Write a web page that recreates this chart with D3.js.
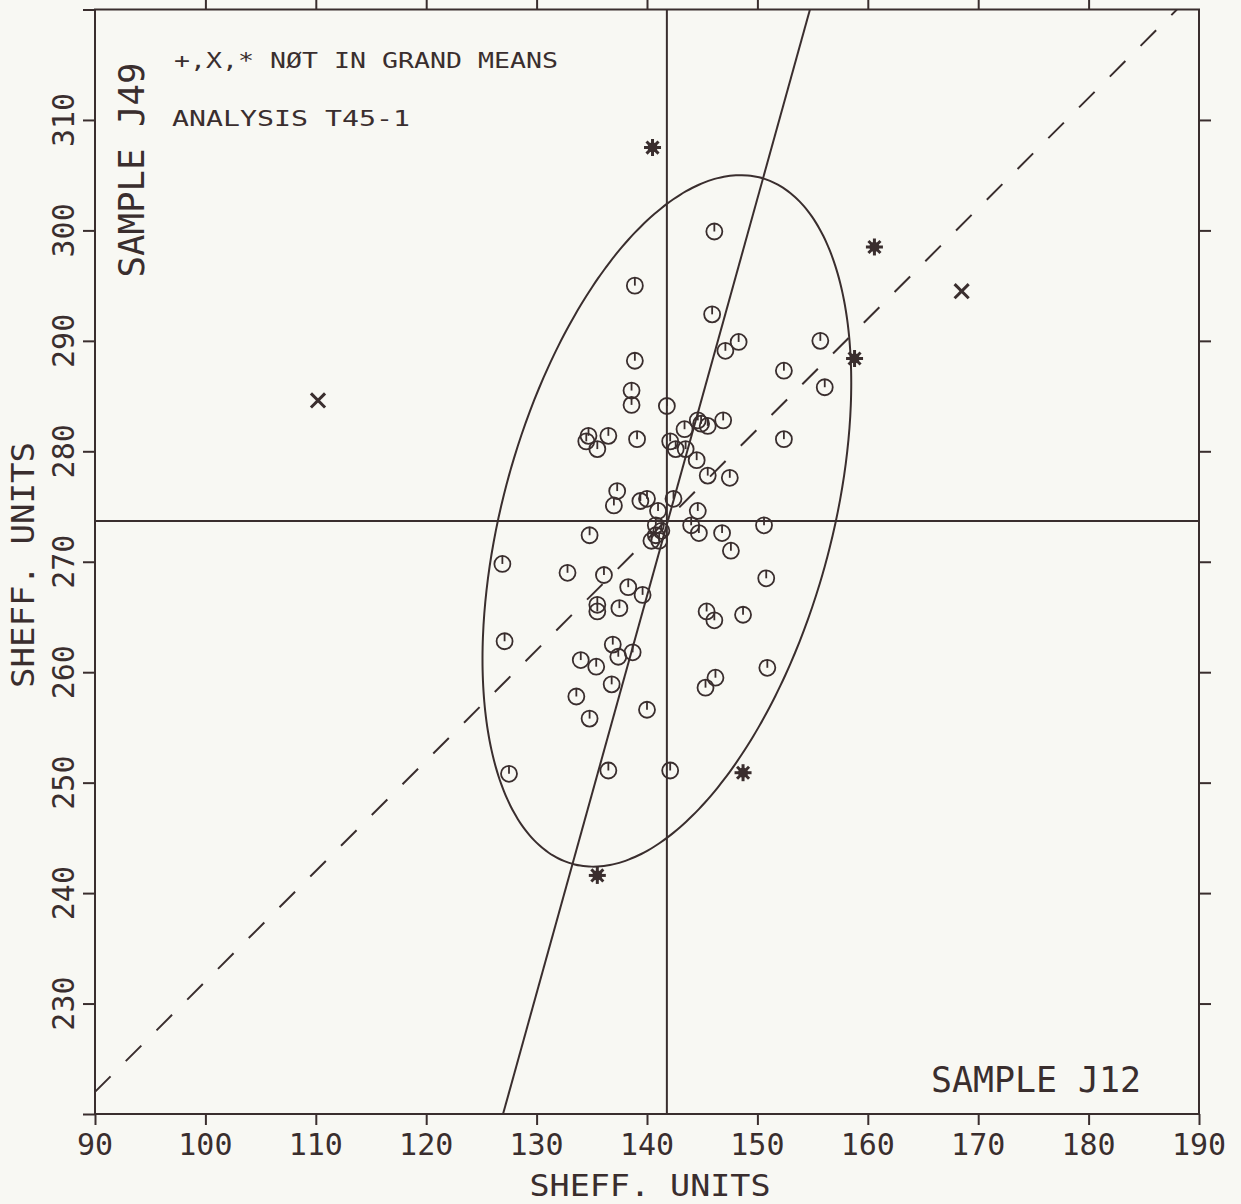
<!DOCTYPE html>
<html>
<head>
<meta charset="utf-8">
<script src="https://cdn.jsdelivr.net/npm/d3@7"></script>
<style>
  html, body { margin: 0; padding: 0; background: #f8f8f3; }
  svg { display: block; }
  text { font-family: "DejaVu Sans Mono", monospace; fill: #3a2e2e; }
</style>
</head>
<body>
<svg id="chart" width="1241" height="1204"></svg>
<script>
// ---- data ----
const xTicks = [90, 100, 110, 120, 130, 140, 150, 160, 170, 180, 190];
const yTicks = [220, 230, 240, 250, 260, 270, 280, 290, 300, 310, 320];
const yLabels = [230, 240, 250, 260, 270, 280, 290, 300, 310];

// laboratories in the grand means (circle marks)
const circleX = [146.1, 138.9, 145.9, 148.3, 147.1, 155.7, 152.4, 156.1, 138.9, 138.6,
  138.6, 141.8, 144.6, 144.9, 145.5, 146.9, 143.4, 134.7, 134.5, 135.5,
  136.5, 139.1, 142.1, 142.6, 143.5, 152.4, 144.5, 145.5, 147.5, 137.3,
  137.0, 139.4, 140.0, 142.4, 141.0, 140.8, 141.3, 140.8, 140.4, 141.1,
  144.6, 144.0, 144.7, 146.8, 147.6, 150.6, 134.8, 126.9, 132.8, 136.1,
  138.3, 139.6, 135.5, 135.5, 137.5, 145.4, 146.1, 148.7, 150.8, 127.1,
  136.9, 137.4, 138.7, 134.0, 135.4, 136.8, 133.6, 134.8, 140.0, 146.2,
  145.3, 150.9, 127.5, 136.5, 142.1];
const circleY = [299.9, 295.0, 292.4, 289.9, 289.1, 290.0, 287.3, 285.8, 288.2, 285.5,
  284.2, 284.1, 282.8, 282.5, 282.3, 282.8, 282.0, 281.4, 280.9, 280.2,
  281.4, 281.1, 280.9, 280.2, 280.2, 281.1, 279.2, 277.8, 277.6, 276.4,
  275.1, 275.5, 275.7, 275.7, 274.6, 273.3, 272.8, 272.4, 271.9, 271.9,
  274.6, 273.3, 272.6, 272.6, 271.0, 273.3, 272.4, 269.8, 269.0, 268.8,
  267.7, 267.0, 266.1, 265.5, 265.8, 265.5, 264.7, 265.2, 268.5, 262.8,
  262.5, 261.4, 261.8, 261.1, 260.5, 258.9, 257.8, 255.8, 256.6, 259.5,
  258.6, 260.4, 250.8, 251.1, 251.1];

// not in grand means
const starX = [140.5, 160.6, 158.8, 148.7, 135.5];
const starY = [307.5, 298.5, 288.4, 250.9, 241.6];
const crossX = [110.2, 168.5];
const crossY = [284.6, 294.5];

// grand means, fitted lines, confidence ellipse
const meanX = 141.8;
const meanY = 273.7;
const solidLineX = [126.96, 154.76];
const solidLineY = [220, 320];
const dashLineX = [90, 188.0];
const dashLineY = [222.0, 320];
const ellipseAxes = [16.7, 12.5, 28.7]; // x half width, y coupling, y spread

const ink = "#3a2e2e";

const svg = d3.select("#chart");
svg.append("rect").attr("width", 1241).attr("height", 1204).attr("fill", "#f8f8f3");

const x = d3.scaleLinear().domain([90, 190]).range([95, 1199]);
const y = d3.scaleLinear().domain([220, 320]).range([1114, 9.5]);

// frame
svg.append("rect")
  .attr("x", x(90)).attr("y", y(320))
  .attr("width", x(190) - x(90)).attr("height", y(220) - y(320))
  .attr("fill", "none").attr("stroke", ink).attr("stroke-width", 2);

// ticks (outward, no labels)
const styleAxis = g => {
  g.select(".domain").remove();
  g.selectAll(".tick line").attr("stroke", ink).attr("stroke-width", 2);
  g.selectAll(".tick text").remove();
};
svg.append("g").attr("transform", `translate(0,${y(220)})`)
  .call(d3.axisBottom(x).tickValues(xTicks).tickSize(11).tickSizeOuter(0)).call(styleAxis);
svg.append("g").attr("transform", `translate(0,${y(320)})`)
  .call(d3.axisTop(x).tickValues(xTicks.slice(1, -1)).tickSize(11).tickSizeOuter(0)).call(styleAxis);
svg.append("g").attr("transform", `translate(${x(90)},0)`)
  .call(d3.axisLeft(y).tickValues(yTicks).tickSize(12).tickSizeOuter(0)).call(styleAxis);
svg.append("g").attr("transform", `translate(${x(190)},0)`)
  .call(d3.axisRight(y).tickValues(yTicks.slice(1, -1)).tickSize(12).tickSizeOuter(0)).call(styleAxis);

// tick labels
svg.append("g").selectAll("text").data(xTicks).join("text")
  .attr("x", d => x(d)).attr("y", 1155)
  .attr("text-anchor", "middle").attr("font-size", 30)
  .text(d => d);
svg.append("g").selectAll("text").data(yLabels).join("text")
  .attr("transform", d => `translate(74,${y(d)}) rotate(-90)`)
  .attr("text-anchor", "middle").attr("font-size", 30)
  .text(d => d);

// axis titles
svg.append("text").attr("x", 650).attr("y", 1196)
  .attr("text-anchor", "middle").attr("font-size", 31)
  .attr("textLength", 241).attr("lengthAdjust", "spacingAndGlyphs")
  .text("SHEFF. UNITS");
svg.append("text").attr("transform", "translate(34,565) rotate(-90)")
  .attr("text-anchor", "middle").attr("font-size", 32)
  .attr("textLength", 246).attr("lengthAdjust", "spacingAndGlyphs")
  .text("SHEFF. UNITS");

// sample names and notes
svg.append("text").attr("transform", "translate(144,170) rotate(-90)")
  .attr("text-anchor", "middle").attr("font-size", 36)
  .attr("textLength", 215).attr("lengthAdjust", "spacingAndGlyphs")
  .text("SAMPLE J49");
svg.append("text").attr("x", 1036).attr("y", 1092)
  .attr("text-anchor", "middle").attr("font-size", 36)
  .attr("textLength", 210).attr("lengthAdjust", "spacingAndGlyphs")
  .text("SAMPLE J12");
svg.append("text").attr("x", 174).attr("y", 68)
  .attr("font-size", 21)
  .attr("textLength", 384).attr("lengthAdjust", "spacingAndGlyphs")
  .text("+,X,* NØT IN GRAND MEANS");
svg.append("text").attr("x", 172).attr("y", 126)
  .attr("font-size", 21)
  .attr("textLength", 238).attr("lengthAdjust", "spacingAndGlyphs")
  .text("ANALYSIS  T45-1");

// plot area clip
svg.append("clipPath").attr("id", "plotclip").append("rect")
  .attr("x", x(90)).attr("y", y(320))
  .attr("width", x(190) - x(90)).attr("height", y(220) - y(320));
const plot = svg.append("g").attr("clip-path", "url(#plotclip)");

// mean lines
plot.append("line")
  .attr("x1", x(90)).attr("x2", x(190)).attr("y1", y(meanY)).attr("y2", y(meanY))
  .attr("stroke", ink).attr("stroke-width", 2);
plot.append("line")
  .attr("x1", x(meanX)).attr("x2", x(meanX)).attr("y1", y(220)).attr("y2", y(320))
  .attr("stroke", ink).attr("stroke-width", 2);

const line = d3.line().x(d => x(d[0])).y(d => y(d[1]));
plot.append("path")
  .attr("d", line(d3.zip(solidLineX, solidLineY)))
  .attr("fill", "none").attr("stroke", ink).attr("stroke-width", 2);
plot.append("path")
  .attr("d", line(d3.zip(dashLineX, dashLineY)))
  .attr("fill", "none").attr("stroke", ink).attr("stroke-width", 2)
  .attr("stroke-dasharray", "22,21.5");

// ellipse outline
const [ea, eb, ec] = ellipseAxes;
const ellPts = d3.range(0, 360, 2).map(t => {
  const r = t * Math.PI / 180;
  return [meanX + ea * Math.cos(r), meanY + eb * Math.cos(r) + ec * Math.sin(r)];
});
plot.append("path")
  .attr("d", d3.line().x(d => x(d[0])).y(d => y(d[1])).curve(d3.curveCardinalClosed)(ellPts))
  .attr("fill", "none").attr("stroke", ink).attr("stroke-width", 2);

// circle marks
const circ = plot.append("g").selectAll("g").data(d3.zip(circleX, circleY)).join("g")
  .attr("transform", d => `translate(${x(d[0])},${y(d[1])})`);
circ.append("circle").attr("r", 8).attr("fill", "none").attr("stroke", ink).attr("stroke-width", 1.8);
circ.append("line").attr("x1", 0).attr("y1", -8).attr("x2", 0).attr("y2", 0)
  .attr("stroke", ink).attr("stroke-width", 1.8);

// star marks
const star = plot.append("g").selectAll("g").data(d3.zip(starX, starY)).join("g")
  .attr("transform", d => `translate(${x(d[0])},${y(d[1])})`);
[0, 45, 90, 135].forEach(a => {
  star.append("line").attr("x1", -8.5).attr("x2", 8.5).attr("y1", 0).attr("y2", 0)
    .attr("transform", `rotate(${a})`)
    .attr("stroke", ink).attr("stroke-width", 3);
});
star.append("circle").attr("r", 5).attr("fill", ink);

// cross marks
const cross = plot.append("g").selectAll("g").data(d3.zip(crossX, crossY)).join("g")
  .attr("transform", d => `translate(${x(d[0])},${y(d[1])})`);
[45, 135].forEach(a => {
  cross.append("line").attr("x1", -10).attr("x2", 10).attr("y1", 0).attr("y2", 0)
    .attr("transform", `rotate(${a})`)
    .attr("stroke", ink).attr("stroke-width", 3);
});
</script>
</body>
</html>
